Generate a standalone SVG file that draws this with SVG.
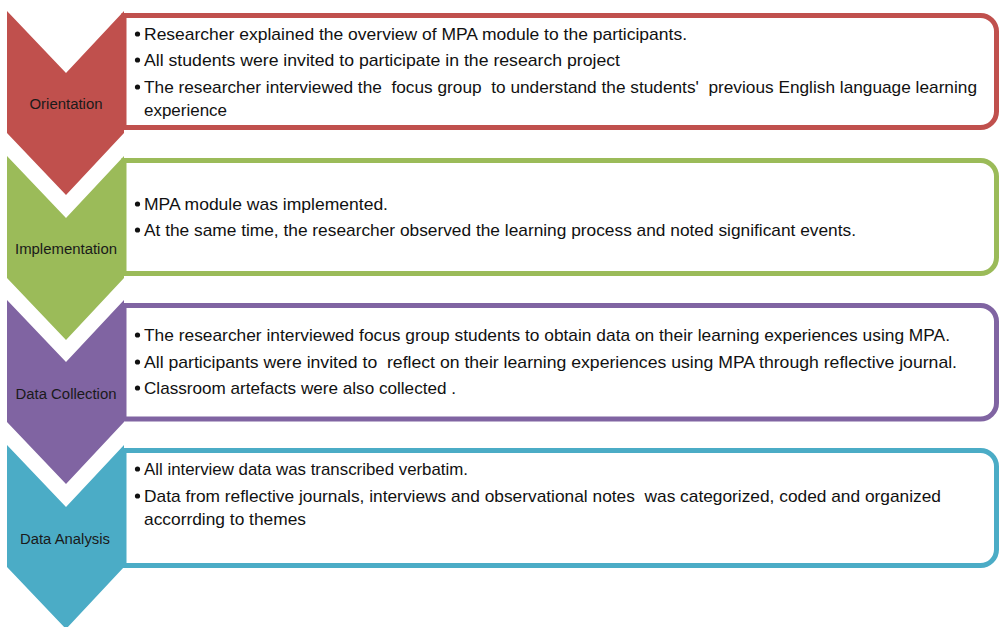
<svg xmlns="http://www.w3.org/2000/svg" width="999" height="627" viewBox="0 0 999 627">
<defs>
<style>
.box{fill:#fff;stroke-width:5}
.t{font-family:"Liberation Sans",Arial,sans-serif;font-size:17px;fill:#111;white-space:pre}
.lbl{font-family:"Liberation Sans",Arial,sans-serif;font-size:14px;fill:#1a1a1a;text-anchor:middle}
.b{fill:#111}
</style>
</defs>
<rect width="999" height="627" fill="#fff"/>
<g id="orientation">
<path class="box" stroke="#C0504D" d="M124 15.5 H980 A16 16 0 0 1 996.5 31.5 V111.5 A16 16 0 0 1 980 127.5 H124 Z"/>
<polygon fill="#C0504D" points="7,11 66,73 124,11 124,133 66,195 7,133"/>
<text class="lbl" x="66" y="109" textLength="73" lengthAdjust="spacingAndGlyphs">Orientation</text>
<circle class="b" cx="137.5" cy="34" r="2.6"/>
<circle class="b" cx="137.5" cy="60" r="2.6"/>
<circle class="b" cx="137.5" cy="87" r="2.6"/>
<text class="t" x="144" y="40" textLength="543" lengthAdjust="spacingAndGlyphs">Researcher explained the overview of MPA module to the participants.</text>
<text class="t" x="144" y="66" textLength="476" lengthAdjust="spacingAndGlyphs">All students were invited to participate in the research project</text>
<text class="t" x="144" y="93" textLength="833" lengthAdjust="spacingAndGlyphs">The researcher interviewed the  focus group  to understand the students'  previous English language learning</text>
<text class="t" x="144" y="116" textLength="83" lengthAdjust="spacingAndGlyphs">experience</text>
</g>
<g id="implementation">
<path class="box" stroke="#9BBB59" d="M124 160.5 H980 A16 16 0 0 1 996.5 176.5 V257.5 A16 16 0 0 1 980 273.5 H124 Z"/>
<polygon fill="#9BBB59" points="7,156 66,218 124,156 124,278 66,340 7,278"/>
<text class="lbl" x="66" y="254" textLength="102" lengthAdjust="spacingAndGlyphs">Implementation</text>
<circle class="b" cx="137.5" cy="204" r="2.6"/>
<circle class="b" cx="137.5" cy="230" r="2.6"/>
<text class="t" x="144" y="210" textLength="244" lengthAdjust="spacingAndGlyphs">MPA module was implemented.</text>
<text class="t" x="144" y="236" textLength="712" lengthAdjust="spacingAndGlyphs">At the same time, the researcher observed the learning process and noted significant events.</text>
</g>
<g id="data-collection">
<path class="box" stroke="#8064A2" d="M124 305.5 H980 A16 16 0 0 1 996.5 321.5 V403 A16 16 0 0 1 980 419 H124 Z"/>
<polygon fill="#8064A2" points="7,300 66,362 124,300 124,422 66,484 7,422"/>
<text class="lbl" x="66" y="399" textLength="101" lengthAdjust="spacingAndGlyphs">Data Collection</text>
<circle class="b" cx="137.5" cy="335" r="2.6"/>
<circle class="b" cx="137.5" cy="362" r="2.6"/>
<circle class="b" cx="137.5" cy="388" r="2.6"/>
<text class="t" x="144" y="341" textLength="806" lengthAdjust="spacingAndGlyphs">The researcher interviewed focus group students to obtain data on their learning experiences using MPA.</text>
<text class="t" x="144" y="368" textLength="813" lengthAdjust="spacingAndGlyphs">All participants were invited to  reflect on their learning experiences using MPA through reflective journal.</text>
<text class="t" x="144" y="394" textLength="312" lengthAdjust="spacingAndGlyphs">Classroom artefacts were also collected .</text>
</g>
<g id="data-analysis">
<path class="box" stroke="#4BACC6" d="M124 450.5 H980 A16 16 0 0 1 996.5 466.5 V549.5 A16 16 0 0 1 980 565.5 H124 Z"/>
<polygon fill="#4BACC6" points="7,445 66,507 124,445 124,567 66,629 7,567"/>
<text class="lbl" x="65" y="544" textLength="90" lengthAdjust="spacingAndGlyphs">Data Analysis</text>
<circle class="b" cx="137.5" cy="469" r="2.6"/>
<circle class="b" cx="137.5" cy="496" r="2.6"/>
<text class="t" x="144" y="475" textLength="324" lengthAdjust="spacingAndGlyphs">All interview data was transcribed verbatim.</text>
<text class="t" x="144" y="502" textLength="797" lengthAdjust="spacingAndGlyphs">Data from reflective journals, interviews and observational notes  was categorized, coded and organized</text>
<text class="t" x="144" y="525" textLength="162" lengthAdjust="spacingAndGlyphs">accorrding to themes</text>
</g>
<g id="connectors"></g>
</svg>
